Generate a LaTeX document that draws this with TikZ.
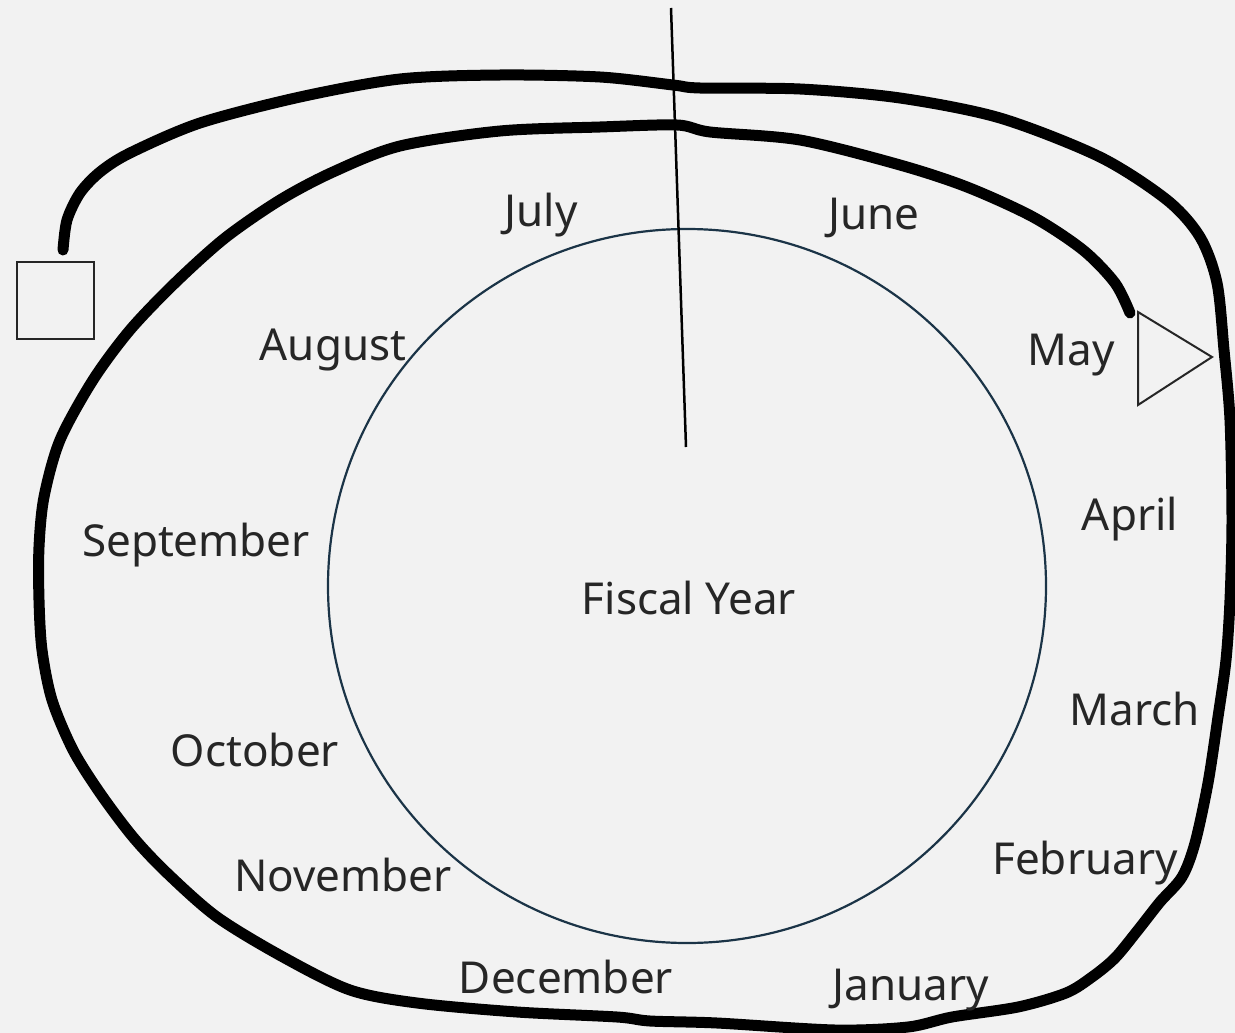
\documentclass[tikz,border=0pt]{standalone}
\usepackage{fontspec}
\setmainfont{Noto Sans}
\usetikzlibrary{shapes.geometric}
\definecolor{bgc}{RGB}{242,242,242}
\definecolor{navy}{RGB}{27,52,71}
\begin{document}
\begin{tikzpicture}[x=1pt,y=-1pt,
  heavy/.style={line width=11pt,line cap=round,line join=round,black},
  month/.style={font=\fontsize{44}{48}\selectfont,text=black!85,inner sep=0pt,anchor=center},
  thinbox/.style={draw=black!85,line width=2pt}]
\fill[bgc] (0,0) rectangle (1235,1033);
\useasboundingbox (0,0) rectangle (1235,1033);
% inner circle
\node[draw=navy,line width=2.2pt,ellipse,minimum width=718pt,minimum height=714pt,inner sep=0pt] (fy) at (687,586) {};
\node[month] (fiscal) at (689,598) {Fiscal Year};
% square and triangle
\node[thinbox,minimum width=77pt,minimum height=77pt,inner sep=0pt] (sq) at (55,300) {};
\coordinate (t1) at (1138,312);
\coordinate (t2) at (1212,357);
\coordinate (t3) at (1138,405);
\draw[thinbox,line join=miter] (t1) -- (t2) -- (t3) -- cycle;
\coordinate (start) at (63,250);
\coordinate (stop) at (1130,313);
% spiral
\draw[heavy] plot[smooth,tension=0.5] coordinates {
(start) (67,220) (80,193) (100,172) (130,153) (200,123) (300,97) (400,79) (500,75) (600,77) (673,85) (700,88) (800,89) (900,98) (1000,118) (1100,157) (1167,200) (1200,237) (1217,283) (1224,350) (1230,420) (1232,520) (1230,600) (1226,660) (1218,717) (1208,783) (1195,843) (1182,877) (1160,902) (1138,930) (1115,958) (1092,977) (1066,993) (1018,1007) (952,1017) (908,1027) (835,1030) (717,1023) (650,1021) (617,1017) (517,1012) (417,1003) (350,990) (283,957) (217,917) (167,873) (133,837) (100,793) (73,750) (52,700) (42,650) (39,600) (39,547) (44,497) (60,440) (93,380) (130,330) (175,283) (225,238) (280,200) (333,172) (400,146) (500,131) (600,127) (677,125) (710,132) (800,140) (900,165) (967,187) (1033,217) (1083,250) (1115,283) (stop)};
% vertical line
\coordinate (vtop) at (671,8);
\coordinate (vbot) at (686,447);
\draw[line width=2.5pt,black] (vtop) -- (vbot);
% months
\node[month] (jul) at (541,215) {July};
\node[month] (jun) at (874,218) {June};
\node[month] (aug) at (333,350) {August};
\node[month] (may) at (1071,355) {May};
\node[month] (sep) at (196,545) {September};
\node[month] (apr) at (1130,519) {April};
\node[month] (mar) at (1135,709) {March};
\node[month] (oct) at (255,750) {October};
\node[month] (nov) at (343,875) {November};
\node[month] (feb) at (1085,863) {February};
\node[month] (dec) at (566,977) {December};
\node[month] (jan) at (911,990) {January};
\end{tikzpicture}
\end{document}
